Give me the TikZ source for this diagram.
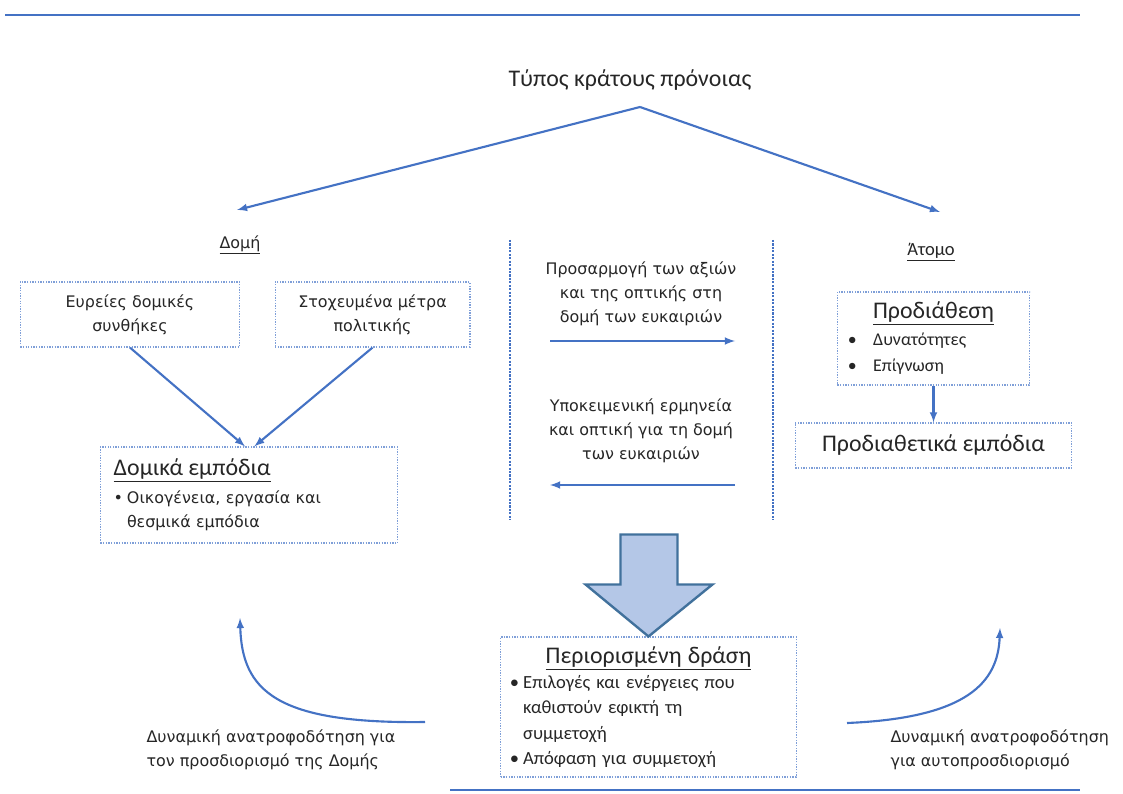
\documentclass[tikz,border=0pt]{standalone}
\usepackage{fontspec}
\setmainfont{Carlito}
\newfontfamily\geo{DejaVu Sans}
\usetikzlibrary{positioning,calc}
\definecolor{lineblue}{HTML}{4472C4}
\definecolor{dotblue}{HTML}{7F9FD8}
\definecolor{arrowfill}{HTML}{B4C7E7}
\definecolor{arrowdraw}{HTML}{41719C}
\definecolor{txt}{HTML}{262626}
\newcommand{\hd}{\fontsize{18}{22}\selectfont}
\newcommand{\gtxt}{\geo\fontsize{12}{18}\selectfont}
\newcommand{\bul}[1]{\makebox[#1][l]{\textbullet}}
\tikzset{box/.style={draw=dotblue, densely dotted, line width=1pt, inner xsep=6pt, inner ysep=3pt, align=center, text=txt},
% the dotted frames round every block
line/.style={-latex, draw=lineblue, line width=1.6pt},
sep/.style={draw=lineblue, densely dotted, line width=1.6pt},
bigarrow/.style={draw=arrowdraw, fill=arrowfill, line width=1.8pt, line join=miter},
plain/.style={text=txt, align=center, inner sep=1pt}
}

\begin{document}
\begin{tikzpicture}[x=0.0265cm,y=-0.0265cm]
    \useasboundingbox (0,0) rectangle (1123,794);
    % rules at top and bottom
    \draw[lineblue, line width=2pt] (5,15) -- (1080,15);
    \draw[lineblue, line width=2pt] (450,790) -- (1080,790);

    \node[plain, font=\hd] (typos) at (630,80) {Τύπος κράτους πρόνοιας};
    \coordinate (apex) at (640,107);
    \coordinate (ltip) at (237,210);
    \coordinate (rtip) at (940,212);
    \draw[line] (apex) -- (ltip);
    \draw[line] (apex) -- (rtip);

    % left side: structure
    \node[plain, font=\gtxt] (domi) at (240,245) {\underline{Δομή}};
    \node[box, font=\gtxt, minimum width=165.6pt, minimum height=48.9pt] (evr) at (130,314.5) {Ευρείες δομικές\\συνθήκες};
    \node[box, font=\gtxt, minimum width=146.8pt, minimum height=48.9pt] (stox) at (372.5,314.5) {Στοχευμένα μέτρα\\πολιτικής};
    \node[box, font=\gtxt, align=left, inner xsep=10pt, text width=204pt, minimum height=72.3pt] (dom) at (249,495)
      {{\rmfamily\hd\underline{Δομικά εμπόδια}}\\[3pt]
       \bul{10pt}Οικογένεια, εργασία και\\ \hspace*{10pt}θεσμικά εμπόδια};
    \draw[line] (evr.south) -- ([xshift=-3]dom.north);
    \draw[line] (stox.south) -- ([xshift=4]dom.north);

    % middle column
    \coordinate (s1a) at (510,240);
    \coordinate (s1b) at (510,520);
    \coordinate (s2a) at (773,240);
    \coordinate (s2b) at (773,520);
    \draw[sep] (s1a) -- (s1b);
    \draw[sep] (s2a) -- (s2b);
    \node[plain, font=\gtxt] (adapt) at (641,294) {Προσαρμογή των αξιών\\και της οπτικής στη\\δομή των ευκαιριών};
    \node[plain, font=\gtxt] (interp) at (641,431) {Υποκειμενική ερμηνεία\\και οπτική για τη δομή\\των ευκαιριών};
    \coordinate (r0) at (550,341);
    \coordinate (r1) at (735,341);
    \coordinate (l0) at (735,485);
    \coordinate (l1) at (550,485);
    \draw[line] (r0) -- (r1);
    \draw[line] (l0) -- (l1);

    % right side: individual
    \node[plain, font=\fontsize{14}{18}\selectfont] (atomo) at (931,252) {\underline{Άτομο}};
    \node[box, font=\fontsize{13.5}{20}\selectfont, align=left, inner xsep=8pt, text width=129pt, minimum height=70pt] (prod) at (933.5,338.5)
      {\makebox[\linewidth]{\hd\underline{Προδιάθεση}}\\
       \bul{19pt}Δυνατότητες\\ \bul{19pt}Επίγνωση};
    \node[box, font=\hd, minimum width=208.5pt, minimum height=33.9pt] (prodemp) at (933.5,445.5) {Προδιαθετικά εμπόδια};
    \draw[line] (prod.south) -- (prodemp.north);

    % bottom: action
    \node[box, font=\fontsize{14}{19}\selectfont, align=left, inner xsep=7pt, text width=209pt, minimum height=105.4pt] (drasi) at (648.5,707)
      {\makebox[\linewidth]{\hd\underline{Περιορισμένη δράση}}\\
       \bul{10pt}Επιλογές και ενέργειες που\\ \hspace*{10pt}καθιστούν εφικτή τη\\ \hspace*{10pt}συμμετοχή\\ \bul{10pt}Απόφαση για συμμετοχή};
    \draw[bigarrow] (drasi.north) -- ++(64,-52) -- ++(-35,0) -- ++(0,-50) -- ++(-57,0) -- ++(0,50) -- ++(-35,0) -- cycle;

    % feedback loops
    \coordinate (fbl0) at (425,722);
    \coordinate (fbl1) at (240,618);
    \coordinate (fbr0) at (847,723);
    \coordinate (fbr1) at (1000,628);
    \draw[line] (fbl0) .. controls (275,724) and (242,690) .. (fbl1);
    \draw[line] (fbr0) .. controls (968,718) and (998,682) .. (fbr1);
    \node[plain, align=left, anchor=west, font=\gtxt] (fbltext) at (145,750) {Δυναμική ανατροφοδότηση για\\τον προσδιορισμό της Δομής};
    \node[plain, align=left, anchor=west, font=\gtxt] (fbrtext) at (889,750) {Δυναμική ανατροφοδότηση\\για αυτοπροσδιορισμό};
\end{tikzpicture}
\end{document}
